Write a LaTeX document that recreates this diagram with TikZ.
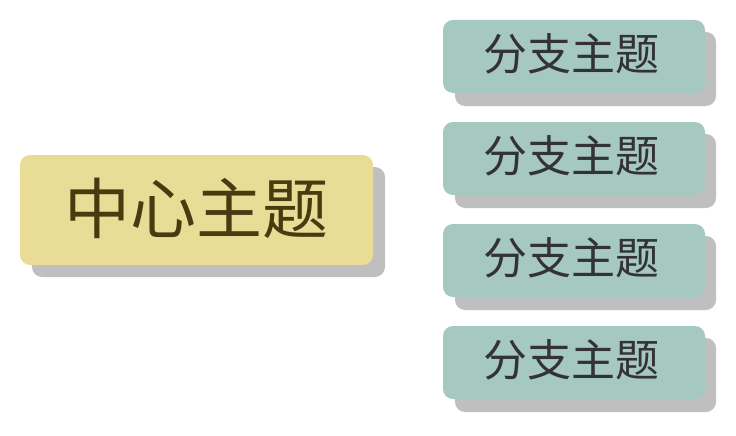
\documentclass[tikz,border=0pt]{standalone}
\usepackage{fontspec}
\newfontfamily\cjk{Noto Sans CJK SC}
\definecolor{cfill}{HTML}{E8DC96}
\definecolor{bfill}{HTML}{A5C8C0}
\definecolor{shad}{HTML}{BFBFBF}
\definecolor{ctext}{HTML}{4A3A10}
\definecolor{btext}{HTML}{333333}
\tikzset{
  shadowbox/.style={fill=shad, rounded corners=10pt},
  centerbox/.style={fill=cfill, rounded corners=10pt},
  branchbox/.style={fill=bfill, rounded corners=10pt},
  ctxt/.style={font=\cjk\fontsize{66}{70}\selectfont, text=ctext},
  btxt/.style={font=\cjk\fontsize{44}{48}\selectfont, text=btext}
}
\begin{document}
\begin{tikzpicture}[x=1pt,y=-1pt]
\useasboundingbox (0,0) rectangle (736,436);
\fill[shadowbox] (32,167) rectangle (385,277);
\fill[centerbox] (20,155) rectangle (373,265);
\node[ctxt] (c) at (196.5,208) {中心主题};
\foreach \i/\y in {1/20,2/122,3/224,4/326}{
  \fill[shadowbox] (455,\y+12) rectangle (716,\y+86);
  \fill[branchbox] (443,\y) rectangle (705,\y+73);
  \node[btxt] (b\i) at (571,\y+34) {分支主题};
}
\end{tikzpicture}
\end{document}
